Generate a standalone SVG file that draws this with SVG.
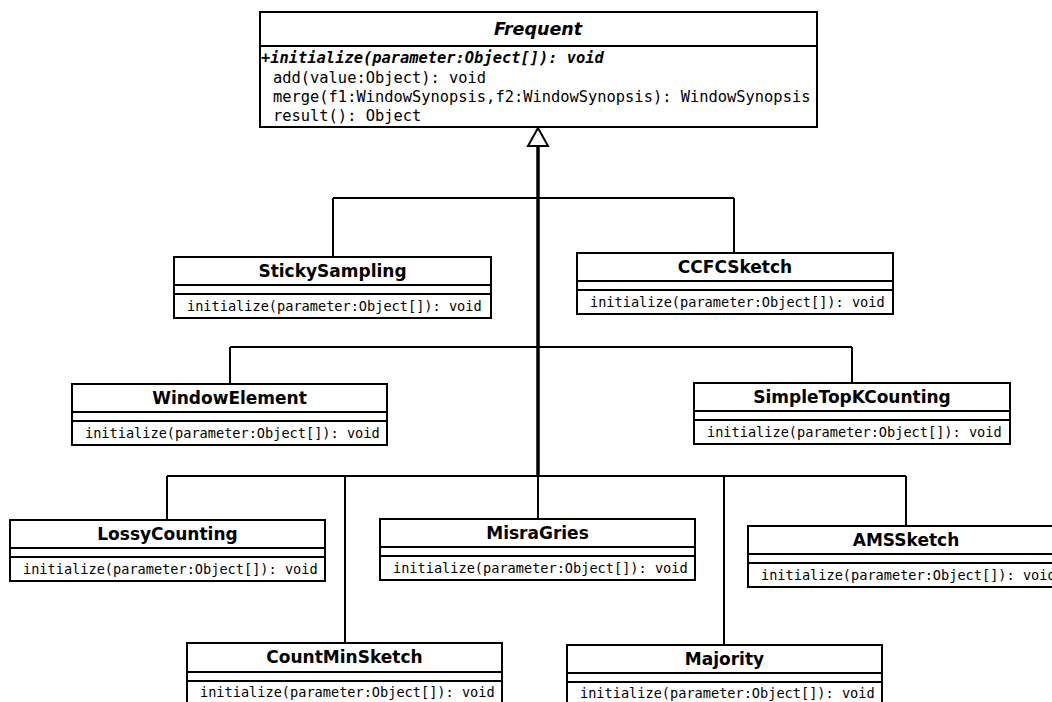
<svg xmlns="http://www.w3.org/2000/svg" width="1052" height="702" viewBox="0 0 1052 702">
  <style>
    .box { fill: #ffffff; stroke: #000000; stroke-width: 2; }
    .div { stroke: #000000; stroke-width: 2; }
    .title { font-family: "DejaVu Sans", "Liberation Sans", sans-serif; font-weight: bold; font-size: 17px; text-anchor: middle; fill: #000; }
    .op { font-family: "DejaVu Sans Mono", "Liberation Mono", monospace; font-size: 13.6px; fill: #000; }
    .optop { font-family: "DejaVu Sans Mono", "Liberation Mono", monospace; font-size: 15.4px; fill: #000; }
    .edge { fill: none; stroke: #000000; stroke-width: 2; }
  </style>
  <rect width="1052" height="702" fill="#ffffff"/>

  <!-- generalization connectors -->
  <g id="connectors">
    <path class="edge" d="M333 198 H734 M333 198 V257 M734 198 V253"/>
    <path class="edge" d="M230 347 H852 M230 347 V384 M852 347 V383"/>
    <path class="edge" d="M167 476 H906 M167 476 V520 M345 476 V643 M538 476 V519 M724 476 V645 M906 476 V526"/>
    <path d="M538 146 V476" fill="none" stroke="#000" stroke-width="3.5"/>
    <polygon points="538,128 528,146 548,146" fill="#ffffff" stroke="#000" stroke-width="2"/>
  </g>

  <!-- abstract base class -->
  <g id="Frequent">
    <rect class="box" x="260" y="12" width="557" height="115"/>
    <line class="div" x1="260" y1="46" x2="817" y2="46"/>
    <text x="538" y="35" font-family="DejaVu Sans, Liberation Sans, sans-serif" font-weight="bold" font-style="italic" font-size="17.5" text-anchor="middle">Frequent</text>
    <text class="optop" x="261" y="63" font-weight="bold" font-style="italic">+initialize(parameter:Object[]): void</text>
    <text class="optop" x="273" y="83">add(value:Object): void</text>
    <text class="optop" x="273" y="102">merge(f1:WindowSynopsis,f2:WindowSynopsis): WindowSynopsis</text>
    <text class="optop" x="273" y="121">result(): Object</text>
  </g>

  <g id="StickySampling">
    <rect class="box" x="174" y="257" width="317" height="61"/>
    <line class="div" x1="174" y1="285" x2="491" y2="285"/>
    <line class="div" x1="174" y1="294" x2="491" y2="294"/>
    <text class="title" x="332.5" y="277">StickySampling</text>
    <text class="op" x="187" y="311">initialize(parameter:Object[]): void</text>
  </g>

  <g id="CCFCSketch">
    <rect class="box" x="577" y="253" width="316" height="61"/>
    <line class="div" x1="577" y1="281" x2="893" y2="281"/>
    <line class="div" x1="577" y1="290" x2="893" y2="290"/>
    <text class="title" x="735" y="273">CCFCSketch</text>
    <text class="op" x="590" y="307">initialize(parameter:Object[]): void</text>
  </g>

  <g id="WindowElement">
    <rect class="box" x="72" y="384" width="315" height="61"/>
    <line class="div" x1="72" y1="412" x2="387" y2="412"/>
    <line class="div" x1="72" y1="421" x2="387" y2="421"/>
    <text class="title" x="229.5" y="404">WindowElement</text>
    <text class="op" x="85" y="438">initialize(parameter:Object[]): void</text>
  </g>

  <g id="SimpleTopKCounting">
    <rect class="box" x="694" y="383" width="316" height="61"/>
    <line class="div" x1="694" y1="411" x2="1010" y2="411"/>
    <line class="div" x1="694" y1="420" x2="1010" y2="420"/>
    <text class="title" x="852" y="403">SimpleTopKCounting</text>
    <text class="op" x="707" y="437">initialize(parameter:Object[]): void</text>
  </g>

  <g id="LossyCounting">
    <rect class="box" x="10" y="520" width="315" height="61"/>
    <line class="div" x1="10" y1="548" x2="325" y2="548"/>
    <line class="div" x1="10" y1="557" x2="325" y2="557"/>
    <text class="title" x="167.5" y="540">LossyCounting</text>
    <text class="op" x="23" y="574">initialize(parameter:Object[]): void</text>
  </g>

  <g id="MisraGries">
    <rect class="box" x="380" y="519" width="315" height="61"/>
    <line class="div" x1="380" y1="547" x2="695" y2="547"/>
    <line class="div" x1="380" y1="556" x2="695" y2="556"/>
    <text class="title" x="537.5" y="539">MisraGries</text>
    <text class="op" x="393" y="573">initialize(parameter:Object[]): void</text>
  </g>

  <g id="AMSSketch">
    <rect class="box" x="748" y="526" width="316" height="61"/>
    <line class="div" x1="748" y1="554" x2="1064" y2="554"/>
    <line class="div" x1="748" y1="563" x2="1064" y2="563"/>
    <text class="title" x="906" y="546">AMSSketch</text>
    <text class="op" x="761" y="580">initialize(parameter:Object[]): void</text>
  </g>

  <g id="CountMinSketch">
    <rect class="box" x="187" y="643" width="315" height="61"/>
    <line class="div" x1="187" y1="672" x2="502" y2="672"/>
    <line class="div" x1="187" y1="681" x2="502" y2="681"/>
    <text class="title" x="344.5" y="663">CountMinSketch</text>
    <text class="op" x="200" y="697">initialize(parameter:Object[]): void</text>
  </g>

  <g id="Majority">
    <rect class="box" x="567" y="645" width="315" height="61"/>
    <line class="div" x1="567" y1="673" x2="882" y2="673"/>
    <line class="div" x1="567" y1="682" x2="882" y2="682"/>
    <text class="title" x="724.5" y="665">Majority</text>
    <text class="op" x="580" y="698">initialize(parameter:Object[]): void</text>
  </g>
</svg>
